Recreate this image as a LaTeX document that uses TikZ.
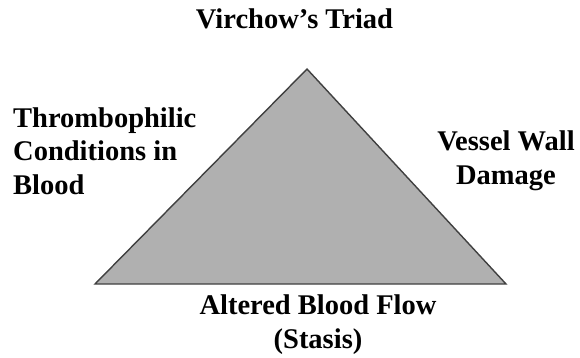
\documentclass[tikz,border=0pt]{standalone}
\usepackage{fontspec}
\setmainfont{Liberation Serif}
\usepackage{tikz}
\usetikzlibrary{positioning}
\definecolor{triafill}{RGB}{176, 176, 176}
\definecolor{triaedge}{RGB}{64, 64, 64}

\begin{document}
\begin{tikzpicture}[
    x=1pt, y=-1pt,
    font=\bfseries\fontsize{28.5}{33.5}\selectfont,
    label/.style={inner sep=0pt, anchor=base},
]

\useasboundingbox (0,0) rectangle (580,358);

% ===== Title =====
\node[label] (title) at (294.5, 29) {Virchow’s Triad};

% ===== Triangle =====
\coordinate (apex) at (307, 69);
\coordinate (left) at (95, 284);
\coordinate (right) at (506, 284);
\filldraw[fill=triafill, draw=triaedge, line width=1.4pt, line join=miter]
    (left) -- (apex) -- (right) -- cycle;

% ===== Corner labels (anchored at last baseline) =====
\node[label, anchor=base west, align=left] (blood) at (13, 194)
    {Thrombophilic\\Conditions in\\Blood};
\node[label, align=center] (wall) at (506, 184) {Vessel Wall\\Damage};
\node[label, align=center] (flow) at (318, 348) {Altered Blood Flow\\(Stasis)};

\end{tikzpicture}
\end{document}
